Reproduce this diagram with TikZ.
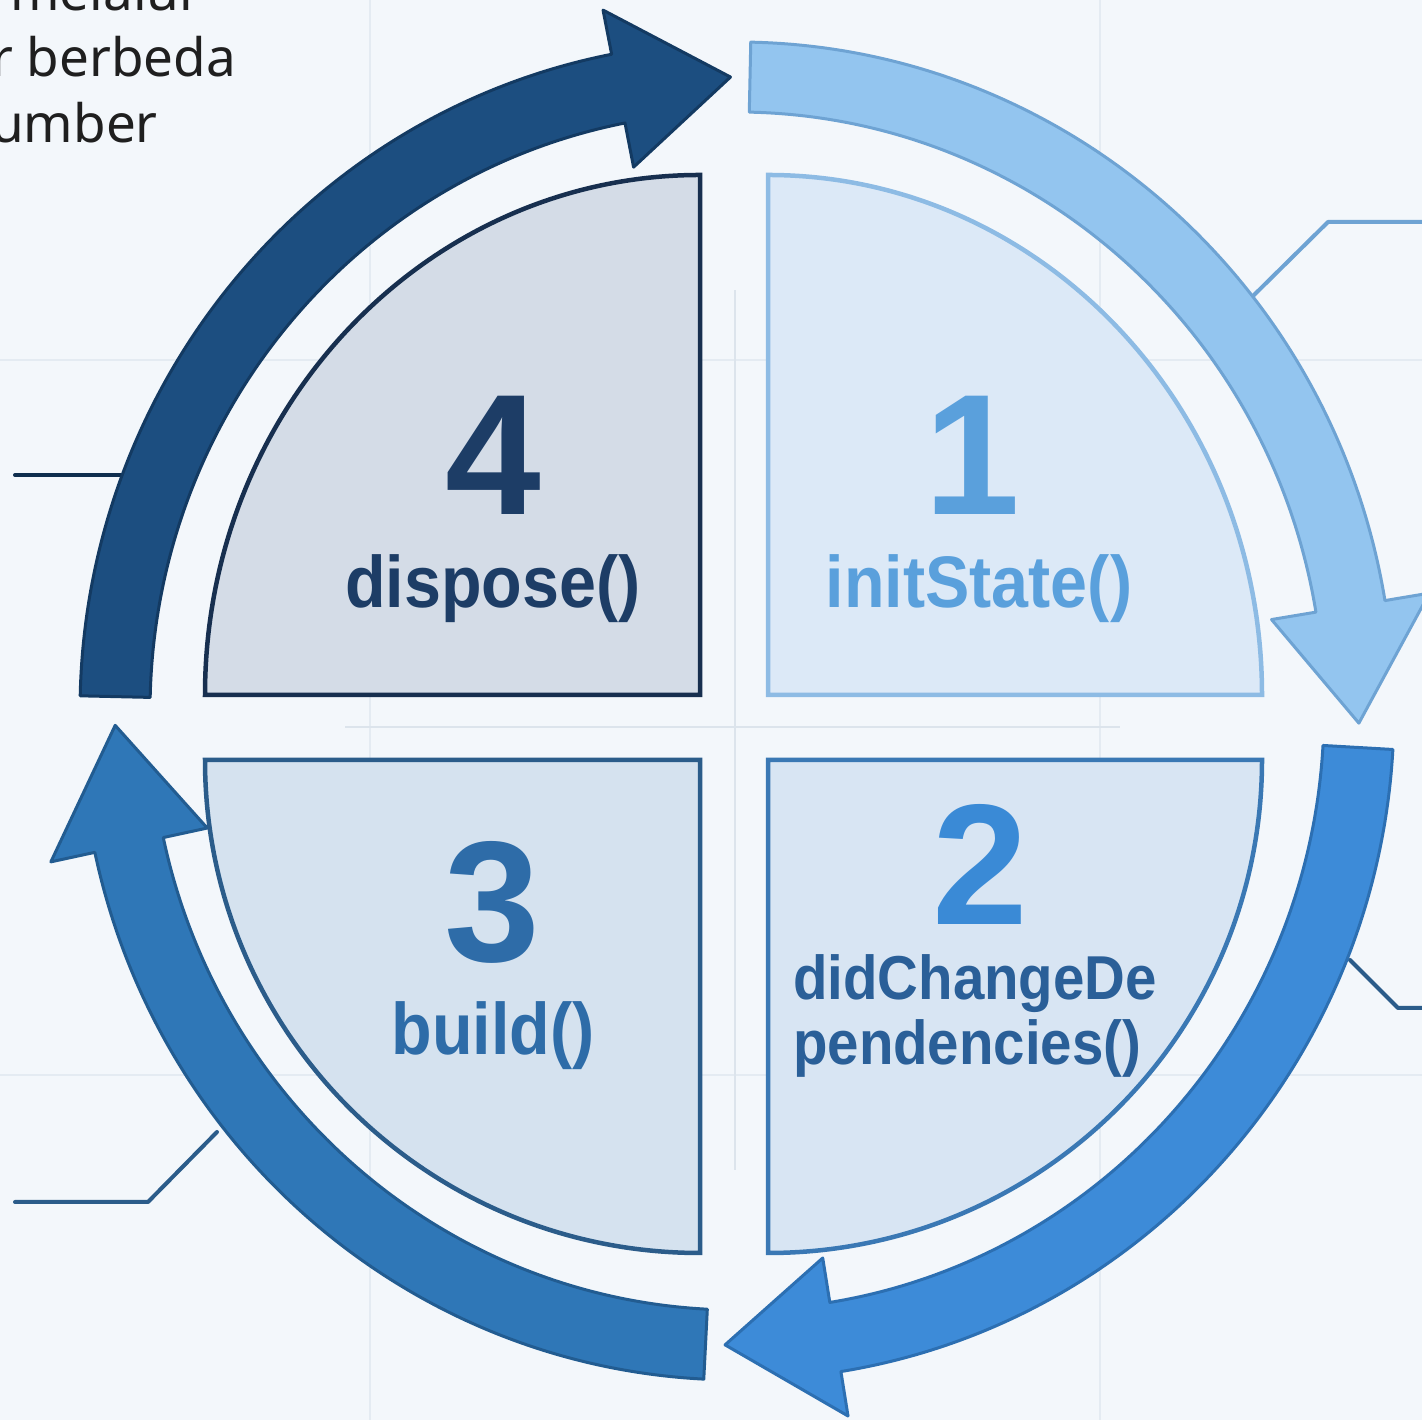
\documentclass[tikz,border=0pt]{standalone}
\usepackage{fontspec}
\setmainfont{Noto Sans}
\newfontfamily\labelfont{Liberation Sans}[FakeStretch=0.91]
\newfontfamily\digitfont{Liberation Sans}
\definecolor{bgpaper}{HTML}{F3F7FB}
\definecolor{gridline}{HTML}{E4EBF2}
\definecolor{crossline}{HTML}{DCE4EC}
% ring arrows
\definecolor{navyfill}{HTML}{1C4E80}
\definecolor{navyedge}{HTML}{133A62}
\definecolor{skyfill}{HTML}{93C5EF}
\definecolor{skyedge}{HTML}{6EA3D3}
\definecolor{midfill}{HTML}{3D8BD8}
\definecolor{midedge}{HTML}{2C6FB2}
\definecolor{bluefill}{HTML}{2F77B7}
\definecolor{blueedge}{HTML}{225C91}
% quadrants
\definecolor{qfourfill}{HTML}{D4DCE7}
\definecolor{qfouredge}{HTML}{172F4F}
\definecolor{qonefill}{HTML}{DCE9F7}
\definecolor{qoneedge}{HTML}{8DBBE4}
\definecolor{qthreefill}{HTML}{D5E2EF}
\definecolor{qthreeedge}{HTML}{2B5C8A}
\definecolor{qtwofill}{HTML}{D8E5F3}
\definecolor{qtwoedge}{HTML}{3A78B4}
% labels
\definecolor{txtfour}{HTML}{1D3D66}
\definecolor{txtone}{HTML}{5AA0DC}
\definecolor{txtthree}{HTML}{2E6CA8}
\definecolor{txttwo}{HTML}{3A8AD6}
\definecolor{txttwob}{HTML}{2A5F98}

% curved arrow on the ring: #1 start angle, #2 head base angle, #3 tip angle, #4 style
\newcommand{\ringarrow}[4]{%
  \path[#4] (#1:657 and 669)
    arc[start angle=#1, end angle=#2, x radius=657, y radius=669]
    -- (#2:702 and 714) -- (#3:622 and 634) -- (#2:542 and 554)
    -- (#2:587 and 599)
    arc[start angle=#2, end angle=#1, x radius=587, y radius=599] -- cycle;}

\begin{document}
\begin{tikzpicture}[x=1pt,y=1pt,
  ringband/.style={line width=3pt, line join=round},
  quad/.style={line width=4.5pt, line join=miter},
  bignum/.style={inner sep=0pt, font=\digitfont\fontsize{172}{172}\selectfont\bfseries},
  method/.style={inner sep=0pt, font=\labelfont\fontsize{73}{73}\selectfont\bfseries},
  methodsmall/.style={inner sep=0pt, font=\labelfont\fontsize{62}{62}\selectfont\bfseries},
  note/.style={inner sep=0pt, font=\fontsize{53}{60}\selectfont, text=black!88},
  leader/.style={line width=4pt, line cap=round, line join=round}]

\useasboundingbox (0,0) rectangle (1422,1420);
\clip (0,0) rectangle (1422,1420);
\fill[bgpaper] (0,0) rectangle (1422,1420);

% faint background grid
\foreach \gx in {370,1100}
  \draw[gridline, line width=1.5pt] (\gx,0) -- (\gx,1420);
\foreach \gy in {345,1060}
  \draw[gridline, line width=1.5pt] (0,\gy) -- (1422,\gy);
\draw[crossline, line width=2pt] (735,250) -- (735,1130);
\draw[crossline, line width=2pt] (345,693) -- (1120,693);

% partial side note
\node[note, anchor=base west] (noteA) at (10,1409) {melalui};
\node[note, anchor=base west] (noteB) at (-9,1343) {r berbeda};
\node[note, anchor=base west] (noteC) at (-9,1277) {umber};

% leader lines
\coordinate (trA) at (1252,1123);
\coordinate (trB) at (1328,1198);
\coordinate (trC) at (1430,1198);
\draw[leader, color=skyedge] (trA) -- (trB) -- (trC);
\coordinate (brA) at (1350,460);
\coordinate (brB) at (1398,412);
\coordinate (brC) at (1430,412);
\draw[leader, color=qthreeedge] (brA) -- (brB) -- (brC);
\coordinate (tlA) at (122,945);
\coordinate (tlB) at (15,945);
\draw[leader, color=navyedge!80!black] (tlA) -- (tlB);
\coordinate (blA) at (217,288);
\coordinate (blB) at (148,218);
\coordinate (blC) at (15,218);
\draw[leader, color=qthreeedge] (blA) -- (blB) -- (blC);

% ring of four arrows, clockwise
\begin{scope}[shift={(737,709)}]
  \ringarrow{178.7}{101}{90.6}{ringband, fill=navyfill, draw=navyedge}
  \ringarrow{88.8}{9.5}{-1.1}{ringband, fill=skyfill, draw=skyedge}
  \ringarrow{-3.3}{-80.9}{-91.1}{ringband, fill=midfill, draw=midedge}
  \ringarrow{267.1}{192.2}{181.3}{ringband, fill=bluefill, draw=blueedge}
\end{scope}

% quadrants
\draw[quad, fill=qfourfill, draw=qfouredge] (700,725) -- (205,725)
  arc[start angle=180, end angle=90, x radius=495, y radius=520] -- cycle;
\draw[quad, fill=qonefill, draw=qoneedge] (768,725) -- (768,1245)
  arc[start angle=90, end angle=0, x radius=494, y radius=520] -- cycle;
\draw[quad, fill=qthreefill, draw=qthreeedge] (700,660) -- (205,660)
  arc[start angle=180, end angle=270, x radius=495, y radius=493] -- cycle;
\draw[quad, fill=qtwofill, draw=qtwoedge] (768,660) -- (1262,660)
  arc[start angle=0, end angle=-90, x radius=494, y radius=493] -- cycle;

% labels
\node[bignum, text=txtfour, anchor=base] (numfour) at (493,905) {4};
\node[method, text=txtfour, anchor=base] (dispose) at (493,812) {dispose()};
\node[bignum, text=txtone, anchor=base] (numone) at (972,905) {1};
\node[method, text=txtone, anchor=base] (initstate) at (979,812) {initState()};
\node[bignum, text=txtthree, anchor=base] (numthree) at (492,458) {3};
\node[method, text=txtthree, anchor=base] (build) at (493,365) {build()};
\node[bignum, text=txttwo, anchor=base] (numtwo) at (980,495) {2};
\node[methodsmall, text=txttwob, anchor=base west] (didchangeA) at (793,420) {didChangeDe};
\node[methodsmall, text=txttwob, anchor=base west] (didchangeB) at (793,355) {pendencies()};
\end{tikzpicture}
\end{document}
